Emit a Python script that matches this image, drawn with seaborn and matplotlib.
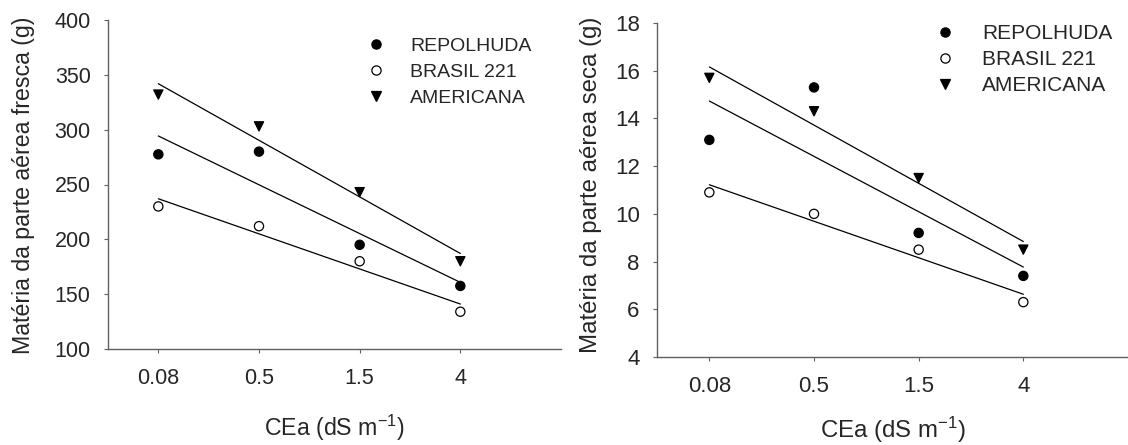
import numpy as np
import pandas as pd
import matplotlib
matplotlib.use('Agg')
import matplotlib.pyplot as plt
import seaborn as sns

# Dados
cea_labels = ['0.08', '0.5', '1.5', '4']
cultivares = ['REPOLHUDA', 'BRASIL 221', 'AMERICANA']

fresca_repolhuda = [277.5, 280, 195, 157.5]
fresca_brasil = [230, 212, 180, 134]
fresca_americana = [332, 303, 243, 180]

seca_repolhuda = [13.1, 15.3, 9.2, 7.4]
seca_brasil = [10.9, 10.0, 8.5, 6.3]
seca_americana = [15.7, 14.3, 11.5, 8.5]

sns.set_style('white')
plt.rcParams['font.family'] = ['Liberation Sans', 'DejaVu Sans']
plt.rcParams['mathtext.fontset'] = 'custom'
plt.rcParams['mathtext.rm'] = 'Liberation Sans'
plt.rcParams['mathtext.it'] = 'Liberation Sans'
plt.rcParams['mathtext.default'] = 'regular'

pos = np.arange(1, len(cea_labels) + 1)


def montar(rep, bra, ame):
    rows = []
    for cult, vals in zip(cultivares, [rep, bra, ame]):
        for p, v in zip(pos, vals):
            rows.append({'pos': p, 'valor': v, 'cultivar': cult})
    return pd.DataFrame(rows)


df_fresca = montar(fresca_repolhuda, fresca_brasil, fresca_americana)
df_seca = montar(seca_repolhuda, seca_brasil, seca_americana)

W, H = 1128, 445
fig = plt.figure(figsize=(W / 100, H / 100), dpi=100)
ax1 = fig.add_axes([108 / W, 1 - 349 / H, (561 - 108) / W, (349 - 20) / H])
ax2 = fig.add_axes([657 / W, 1 - 357 / H, (1128 - 657) / W, (357 - 23) / H])

cores = {'REPOLHUDA': 'black', 'BRASIL 221': 'white', 'AMERICANA': 'black'}
marcadores = {'REPOLHUDA': 'o', 'BRASIL 221': 'o', 'AMERICANA': 'v'}
spine_cor = '#606060'


def desenhar(ax, df, ylim, yticks, ylabel, ylab_xy, leg_xy, fs_tick, fs_lab,
             fs_leg, ltp, lsp):
    for cult in cultivares:
        d = df[df['cultivar'] == cult]
        sns.regplot(x=d['pos'], y=d['valor'], ax=ax, ci=None, scatter=False,
                    truncate=True, line_kws=dict(color='black', lw=0.9))
    sns.scatterplot(data=df, x='pos', y='valor', hue='cultivar', style='cultivar',
                    palette=cores, markers=marcadores, hue_order=cultivares,
                    style_order=cultivares, edgecolor='black', linewidth=0.9,
                    s=44, ax=ax, zorder=3)
    ax.set_xlim(0.5, 5.0)
    ax.set_ylim(*ylim)
    ax.set_yticks(yticks)
    ax.set_xticks(pos)
    ax.set_xticklabels(cea_labels)
    ax.tick_params(axis='both', direction='out', length=3, width=0.8,
                   color=spine_cor, labelsize=fs_tick, left=True, bottom=True)
    ax.tick_params(axis='x', pad=11)
    ax.tick_params(axis='y', pad=9.5)
    for s in ['top', 'right']:
        ax.spines[s].set_visible(False)
    for s in ['left', 'bottom']:
        ax.spines[s].set_color(spine_cor)
        ax.spines[s].set_linewidth(1.0)
    ax.set_ylabel(ylabel, fontsize=fs_lab)
    ax.yaxis.set_label_coords(*ylab_xy)
    ax.set_xlabel(r'CEa (dS m$^{-1}$)', fontsize=fs_lab)
    ax.legend(title=None, frameon=False, fontsize=fs_leg, loc='upper left',
              bbox_to_anchor=leg_xy, handletextpad=ltp, labelspacing=lsp,
              borderaxespad=0, borderpad=0, handlelength=1.0)


desenhar(ax1, df_fresca, (100, 400), np.arange(100, 401, 50),
         'Matéria da parte aérea fresca (g)', (-0.161, 0.498), (0.570, 0.948),
         15.5, 16.7, 14, 1.25, 0.43)
desenhar(ax2, df_seca, (4, 18), np.arange(4, 19, 2),
         'Matéria da parte aérea seca (g)', (-0.117, 0.515), (0.589, 0.997),
         16, 17.3, 15, 1.28, 0.34)

ax1.xaxis.set_label_coords(0.5, -0.195)
ax2.xaxis.set_label_coords(0.5, -0.174)

plt.savefig('out.png', dpi=100)
plt.close()
